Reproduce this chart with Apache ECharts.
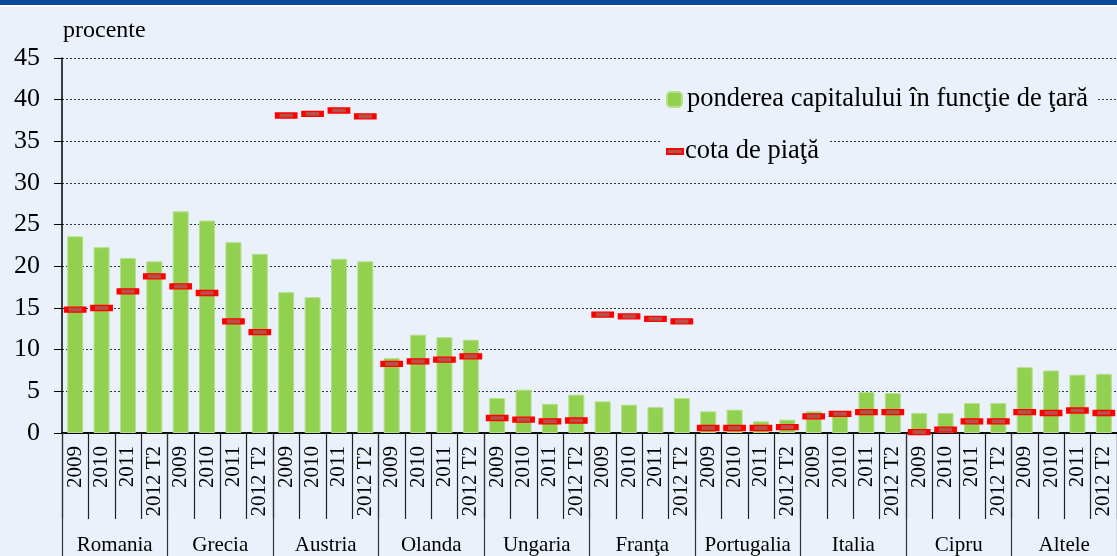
<!DOCTYPE html>
<html lang="ro">
<head>
<meta charset="UTF-8" />
<title>ponderea capitalului / cota de piaţă</title>
<script src="https://cdn.jsdelivr.net/npm/echarts@6/dist/echarts.min.js"></script>
<style>
  html, body { margin: 0; padding: 0; background: #EAF1FA; }
</style>
</head>
<body>
<div id="container" style="width: 1117px; height: 556px"></div>
<script>
  // date
  var countries = ['Romania', 'Grecia', 'Austria', 'Olanda', 'Ungaria', 'Franţa', 'Portugalia', 'Italia', 'Cipru', 'Altele']
  var periods = ['2009', '2010', '2011', '2012 T2']
  var yTicks = [0, 5, 10, 15, 20, 25, 30, 35, 40, 45]

  // ponderea capitalului in functie de tara (bare)
  var capitalShare = [
    23.6, 22.3, 21.0, 20.6,
    26.6, 25.5, 22.9, 21.5,
    16.9, 16.3, 20.9, 20.6,
    9.0, 11.8, 11.5, 11.2,
    4.2, 5.2, 3.5, 4.6,
    3.8, 3.4, 3.1, 4.2,
    2.6, 2.8, 1.4, 1.6,
    2.6, 2.5, 4.9, 4.8,
    2.4, 2.4, 3.6, 3.6,
    7.9, 7.5, 7.0, 7.1
  ]
  // cota de piata (marcaje)
  var marketShare = [
    14.8, 15.0, 17.0, 18.8,
    17.6, 16.8, 13.4, 12.1,
    38.1, 38.3, 38.7, 38.0,
    8.3, 8.6, 8.8, 9.2,
    1.8, 1.6, 1.4, 1.5,
    14.2, 14.0, 13.7, 13.4,
    0.6, 0.6, 0.6, 0.7,
    2.0, 2.3, 2.5, 2.5,
    0.1, 0.4, 1.4, 1.4,
    2.5, 2.4, 2.7, 2.4
  ]

  var barName = 'ponderea capitalului în funcţie de ţară'
  var markName = 'cota de piaţă'
  var font = 'Liberation Serif'

  // categoriile de jos: 4 perioade pentru fiecare tara
  var xCats = []
  countries.forEach(function (c) {
    periods.forEach(function (p) { xCats.push(c + '|' + p) })
  })

  var myChart = echarts.init(document.querySelector('#container'))
  myChart.setOption({
    backgroundColor: '#EAF1FA',
    animation: false,
    textStyle: { fontFamily: font, color: '#000' },
    graphic: [
      { type: 'rect', left: 0, top: 0, shape: { width: 1117, height: 5 }, style: { fill: '#0B4A96' } },
      { type: 'rect', left: 0, top: 5, shape: { width: 1117, height: 2 }, style: { fill: '#ffffff' } }
    ],
    title: {
      text: 'procente',
      left: 58,
      top: 14,
      textStyle: { fontFamily: font, fontSize: 24, fontWeight: 'normal', color: '#000' }
    },
    legend: [
      {
        data: [barName],
        left: 660,
        top: 83,
        itemWidth: 15,
        itemHeight: 15,
        itemGap: 4,
        padding: [3, 10, 3, 6],
        backgroundColor: '#EAF1FA',
        textStyle: { fontFamily: font, fontSize: 26.5, color: '#000', padding: [0, 0, 0, 0] }
      },
      {
        data: [markName],
        left: 660,
        top: 135,
        itemWidth: 16,
        itemHeight: 5,
        padding: [3, 10, 3, 6],
        backgroundColor: '#EAF1FA',
        textStyle: { fontFamily: font, fontSize: 26.5, color: '#000', padding: [0, 0, 0, -3] }
      }
    ],
    grid: { left: 62, right: -2, top: 58, bottom: 123 },
    xAxis: [
      {
        type: 'category',
        data: xCats,
        position: 'bottom',
        axisLine: { show: true, lineStyle: { color: '#000', width: 1.5 } },
        axisTick: { show: true, interval: 0, length: 86, lineStyle: { color: '#222', width: 1.2 } },
        axisLabel: {
          interval: 0,
          rotate: 90,
          margin: 13,
          fontFamily: font,
          fontSize: 21,
          color: '#000',
          formatter: function (v) { return v.split('|')[1] }
        }
      },
      {
        type: 'category',
        data: countries,
        position: 'bottom',
        axisLine: { show: true, lineStyle: { color: '#000', width: 1.5 } },
        axisTick: { show: true, interval: 0, length: 125, lineStyle: { color: '#333', width: 1.2 } },
        axisLabel: { interval: 0, margin: 102, fontFamily: font, fontSize: 21, color: '#000' }
      }
    ],
    yAxis: {
      type: 'value',
      min: yTicks[0],
      max: yTicks[yTicks.length - 1],
      interval: 5,
      axisLine: { show: true, lineStyle: { color: '#000', width: 1.5 } },
      axisTick: { show: true, length: 8, lineStyle: { color: '#000', width: 1 } },
      axisLabel: { margin: 22, fontFamily: font, fontSize: 26, color: '#000' },
      splitLine: { lineStyle: { color: '#333', type: [2, 2], width: 1 } }
    },
    series: [
      {
        name: barName,
        type: 'bar',
        xAxisIndex: 0,
        data: capitalShare,
        barWidth: 16,
        itemStyle: { color: '#92D050', borderColor: '#B5E08C', borderWidth: 1 }
      },
      {
        name: markName,
        type: 'scatter',
        xAxisIndex: 0,
        data: marketShare,
        symbol: 'rect',
        symbolSize: [18, 5],
        z: 5,
        itemStyle: { color: '#B8504A', borderColor: '#FF0000', borderWidth: 2.5, opacity: 1 }
      }
    ]
  })
</script>
</body>
</html>
